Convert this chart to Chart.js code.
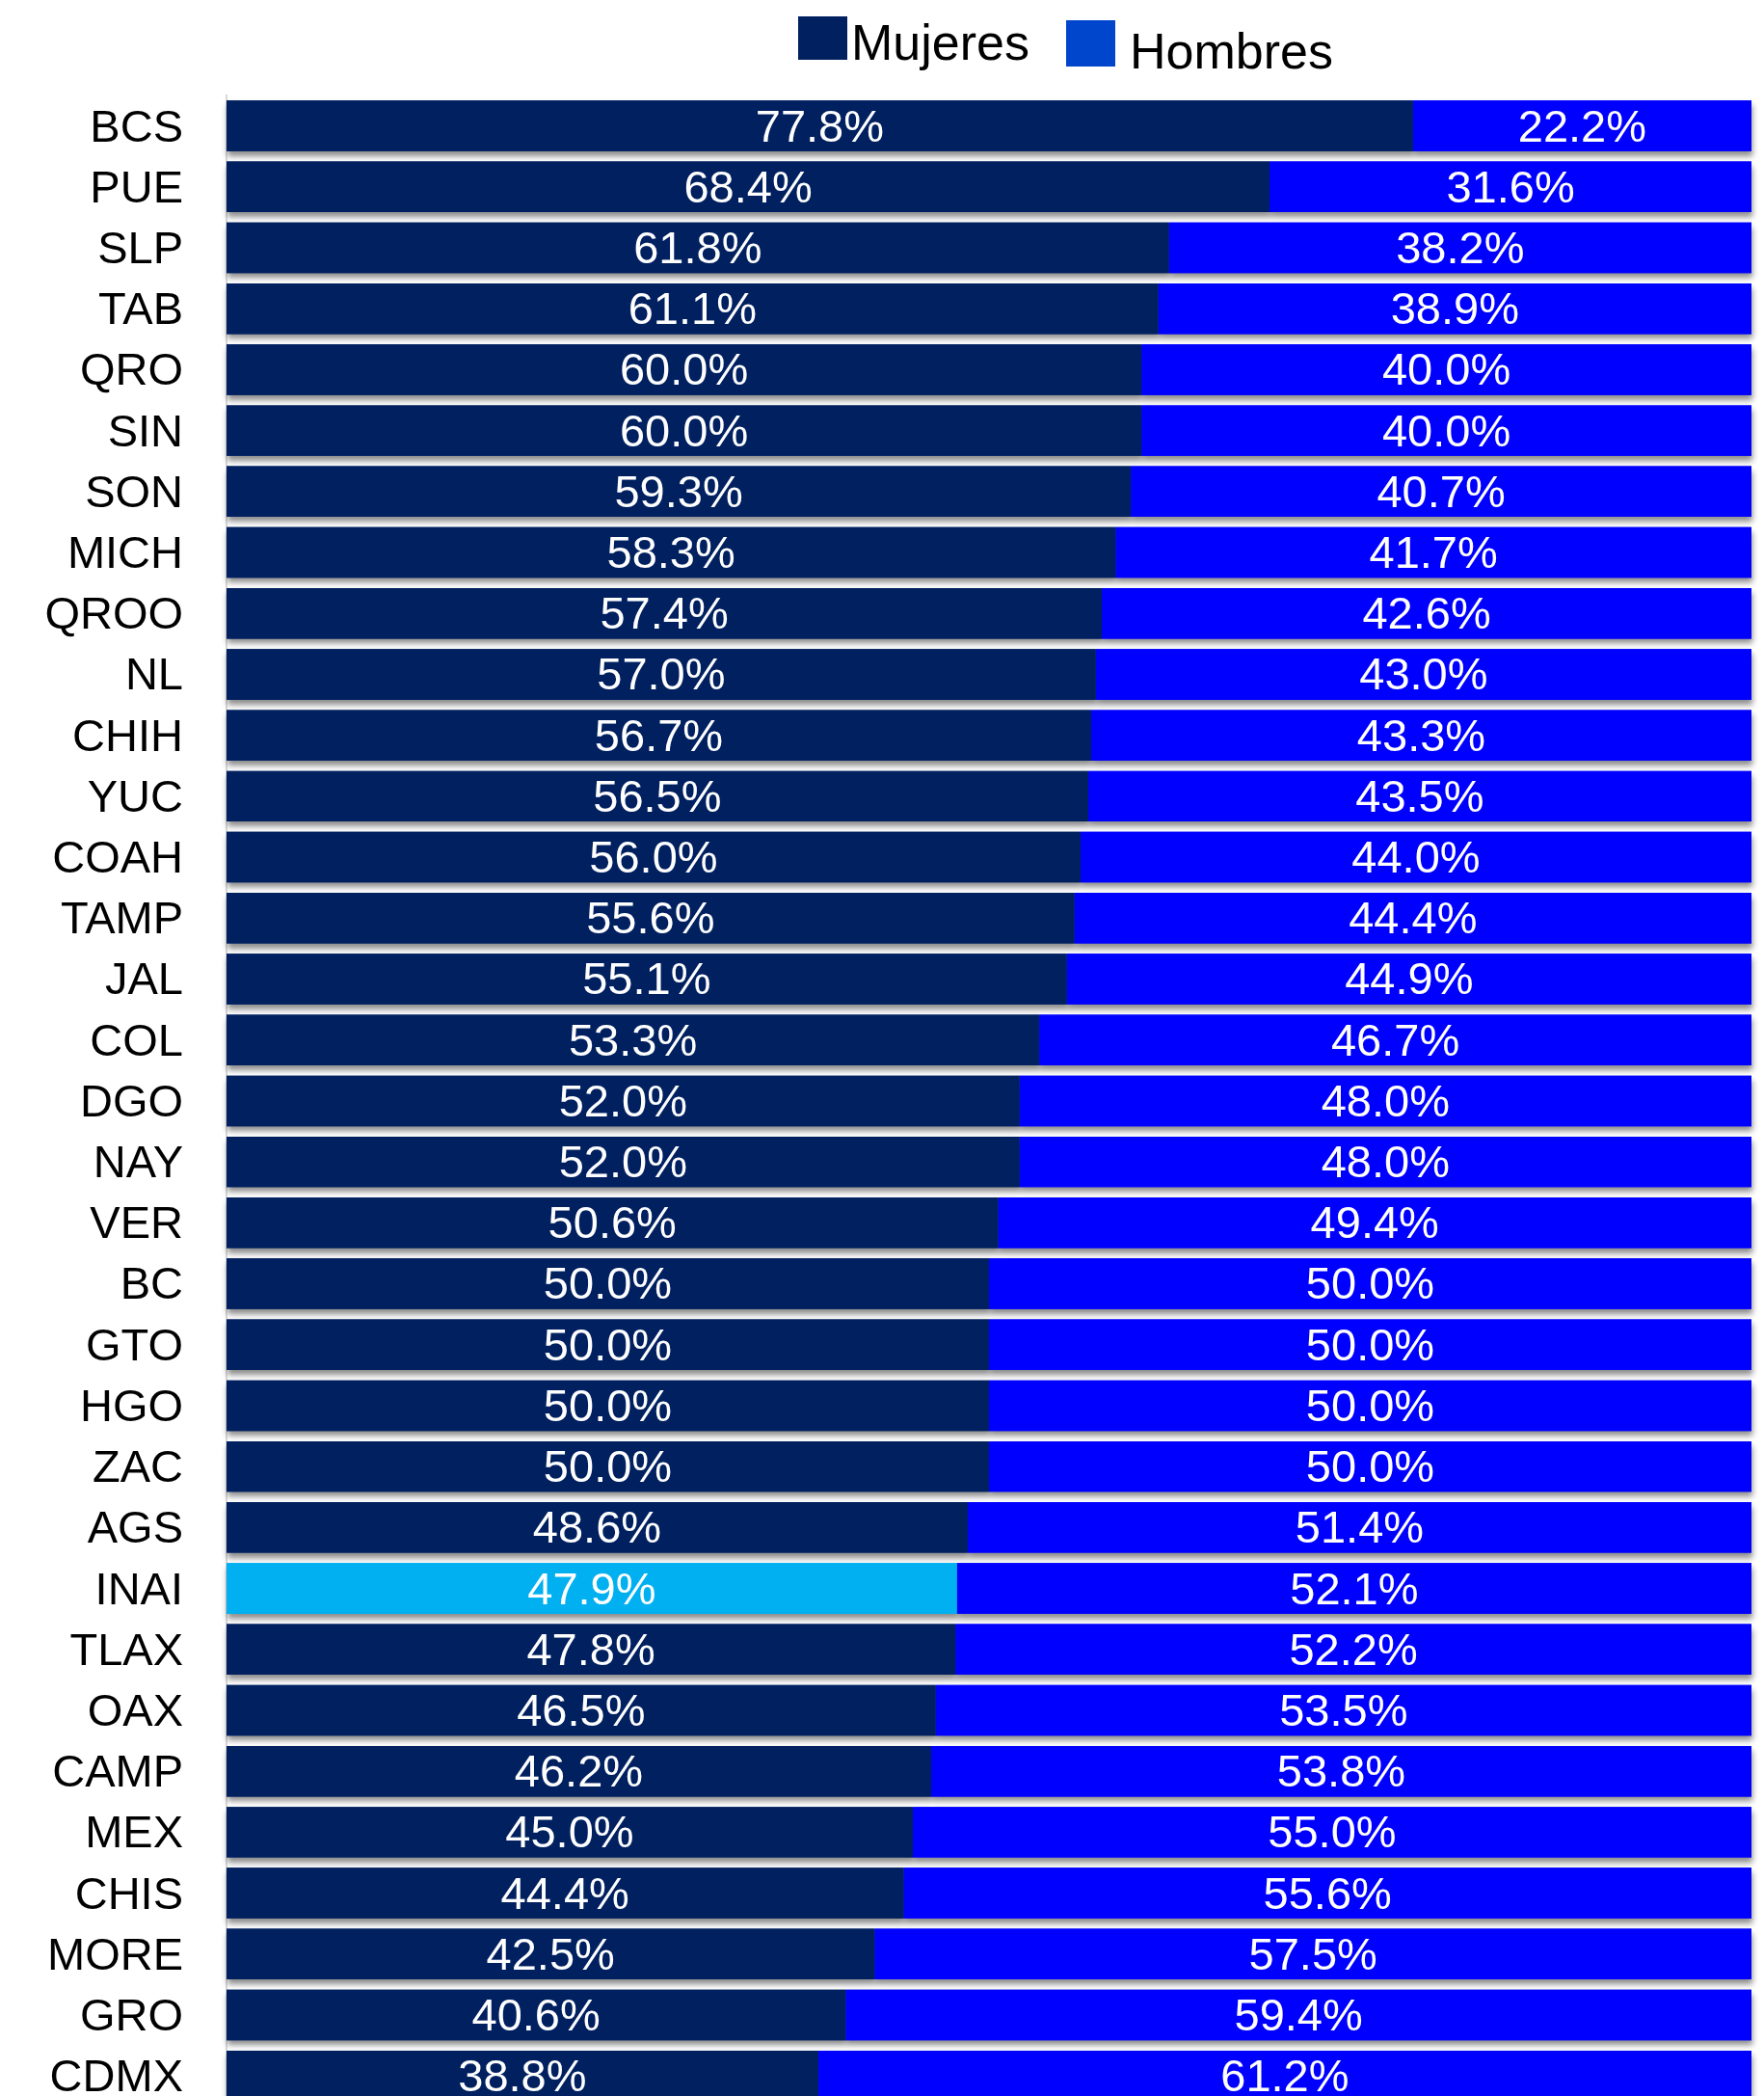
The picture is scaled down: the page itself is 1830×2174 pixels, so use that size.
<!DOCTYPE html>
<html>
<head>
<meta charset="utf-8">
<script src="https://cdn.jsdelivr.net/npm/chart.js@4.4.1/dist/chart.umd.min.js"></script>
<style>
  html, body { margin: 0; padding: 0; background: #fff; overflow: hidden; }
  #myChart { display: block; }
</style>
</head>
<body>
<canvas id="myChart" width="1830" height="2258"></canvas>
<script>
const estados = ['BCS', 'PUE', 'SLP', 'TAB', 'QRO', 'SIN', 'SON', 'MICH', 'QROO', 'NL', 'CHIH',
  'YUC', 'COAH', 'TAMP', 'JAL', 'COL', 'DGO', 'NAY', 'VER', 'BC', 'GTO', 'HGO', 'ZAC', 'AGS',
  'INAI', 'TLAX', 'OAX', 'CAMP', 'MEX', 'CHIS', 'MORE', 'GRO', 'CDMX'];

const mujeres = [77.8, 68.4, 61.8, 61.1, 60.0, 60.0, 59.3, 58.3, 57.4, 57.0, 56.7,
  56.5, 56.0, 55.6, 55.1, 53.3, 52.0, 52.0, 50.6, 50.0, 50.0, 50.0, 50.0, 48.6,
  47.9, 47.8, 46.5, 46.2, 45.0, 44.4, 42.5, 40.6, 38.8];

const hombres = [22.2, 31.6, 38.2, 38.9, 40.0, 40.0, 40.7, 41.7, 42.6, 43.0, 43.3,
  43.5, 44.0, 44.4, 44.9, 46.7, 48.0, 48.0, 49.4, 50.0, 50.0, 50.0, 50.0, 51.4,
  52.1, 52.2, 53.5, 53.8, 55.0, 55.6, 57.5, 59.4, 61.2];

const FONT = '"Liberation Sans", Arial, sans-serif';

// sombra bajo las barras
const sombra = {
  id: 'sombra',
  beforeDatasetsDraw(chart) {
    const ctx = chart.ctx;
    ctx.save();
    ctx.shadowColor = 'rgba(0,0,0,0.45)';
    ctx.shadowBlur = 6;
    ctx.shadowOffsetX = 1;
    ctx.shadowOffsetY = 5;
    chart.data.datasets.forEach((ds, i) => {
      chart.getDatasetMeta(i).data.forEach(el => el.draw(ctx));
    });
    ctx.restore();
  }
};

// etiquetas de porcentaje dentro de cada barra
const etiquetas = {
  id: 'etiquetas',
  afterDatasetsDraw(chart) {
    const ctx = chart.ctx;
    ctx.save();
    ctx.fillStyle = '#ffffff';
    ctx.font = '47px ' + FONT;
    ctx.textAlign = 'center';
    ctx.textBaseline = 'middle';
    chart.data.datasets.forEach((ds, i) => {
      chart.getDatasetMeta(i).data.forEach((el, j) => {
        const x = (el.x + el.base) / 2;
        ctx.fillText(ds.data[j].toFixed(1) + '%', x, el.y + 3);
      });
    });
    ctx.restore();
  }
};

// leyenda
const leyenda = {
  id: 'leyenda',
  afterDraw(chart) {
    const ctx = chart.ctx;
    ctx.save();
    ctx.font = '52px ' + FONT;
    ctx.textBaseline = 'alphabetic';
    ctx.fillStyle = '#002060';
    ctx.fillRect(828, 17, 51, 45);
    ctx.fillStyle = '#000';
    ctx.fillText(chart.data.datasets[0].label, 883, 62);
    ctx.fillStyle = '#0046CC';
    ctx.fillRect(1106, 21, 51, 48);
    ctx.fillStyle = '#000';
    ctx.fillText(chart.data.datasets[1].label, 1172, 71);
    ctx.restore();
  }
};

const ctx = document.getElementById('myChart');

new Chart(ctx, {
  type: 'bar',
  data: {
    labels: estados,
    datasets: [
      {
        label: 'Mujeres',
        data: mujeres,
        backgroundColor: estados.map(e => e === 'INAI' ? '#00B0F0' : '#002060'),
        categoryPercentage: 1,
        barPercentage: 0.83
      },
      {
        label: 'Hombres',
        data: hombres,
        backgroundColor: '#0000FF',
        categoryPercentage: 1,
        barPercentage: 0.83
      }
    ]
  },
  options: {
    indexAxis: 'y',
    responsive: false,
    animation: false,
    layout: {
      padding: { top: 99, right: 13, bottom: 15, left: 0 }
    },
    plugins: {
      legend: { display: false },
      tooltip: { enabled: false }
    },
    scales: {
      x: {
        stacked: true,
        display: false,
        min: 0,
        max: 100
      },
      y: {
        stacked: true,
        afterFit(scale) { scale.width = 235; },
        grid: { display: false, drawTicks: false },
        border: { display: true, color: '#d9d9d9', width: 2 },
        ticks: {
          color: '#000',
          padding: 45,
          labelOffset: 3,
          font: { family: FONT, size: 47 }
        }
      }
    }
  },
  plugins: [sombra, etiquetas, leyenda]
});
</script>
</body>
</html>
